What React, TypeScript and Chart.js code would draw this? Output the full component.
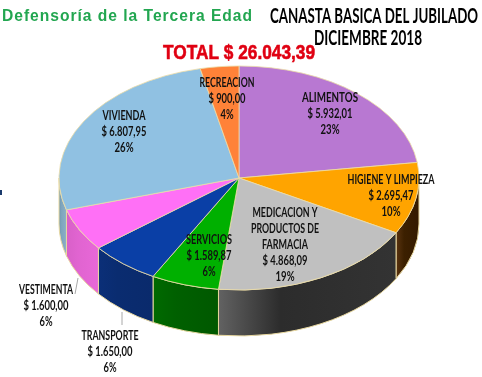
import React, { useEffect, useRef } from "react";
import { Chart, registerables } from "chart.js";

Chart.register(...registerables);

const categories = ["ALIMENTOS", "HIGIENE Y LIMPIEZA", "MEDICACION Y PRODUCTOS DE FARMACIA", "SERVICIOS", "TRANSPORTE", "VESTIMENTA", "VIVIENDA", "RECREACION"];
const values = [5932.01, 2695.47, 4868.09, 1589.87, 1650.0, 1600.0, 6807.95, 900.0];
const amounts = ["$ 5.932,01", "$ 2.695,47", "$ 4.868,09", "$ 1.589,87", "$ 1.650,00", "$ 1.600,00", "$ 6.807,95", "$ 900,00"];
const percents = ["23%", "10%", "19%", "6%", "6%", "6%", "26%", "4%"];
const topColors = ["#B878D2", "#FFA400", "#C0C0C0", "#00B000", "#0A3FA6", "#FF70F6", "#90C1E2", "#FF8238"];
const wallColors = [
  ["#8A58A0", "#8A58A0", "#8A58A0"],
  ["#5A3410", "#3C2000", "#341A00"],
  ["#626262", "#2C2C2C", "#333333"],
  ["#006A00", "#006000", "#005800"],
  ["#0B2F78", "#0A2C70", "#0A2A6C"],
  ["#D860C8", "#E064D0", "#E868D8"],
  ["#6F97B0", "#7FA5BD", "#8AAFC8"],
  ["#C06028", "#C06028", "#C06028"],
];
const labelLines = [
  ["ALIMENTOS"],
  ["HIGIENE Y LIMPIEZA"],
  ["MEDICACION Y", "PRODUCTOS DE", "FARMACIA"],
  ["SERVICIOS"],
  ["TRANSPORTE"],
  ["VESTIMENTA"],
  ["VIVIENDA"],
  ["RECREACION"],
];
const labelAnchors = [
  [330, 98], [391, 180], [285, 213], [209, 240], [110, 336], [46, 290], [124, 116], [227, 83],
];
const labelWidths = [
  [56], [87], [65, 68, 46], [46], [57], [54], [43], [55],
];
const leaders = [
  [78, 278, 75, 294],
  [122, 312, 122, 325],
];

const CENTER_Y = 178;
const SQUASH = 112 / 180;
const DEPTH = 46;

const pie3d = {
  id: "pie3d",
  beforeDatasetsDraw(chart: any) {
    const ctx = chart.ctx;
    const arcs = chart.getDatasetMeta(0).data;
    const first = arcs[0];
    const cx = first.x;
    const rx = first.outerRadius;
    const ry = rx * SQUASH;
    ctx.save();
    arcs.forEach((arc: any, i: number) => {
      const a0 = Math.max(arc.startAngle, 0);
      const a1 = Math.min(arc.endAngle, Math.PI);
      if (a1 <= a0) return;
      const xa = cx + rx * Math.cos(a0);
      const xb = cx + rx * Math.cos(a1);
      const g = ctx.createLinearGradient(xb, 0, xa, 0);
      g.addColorStop(0, wallColors[i][0]);
      g.addColorStop(0.35, wallColors[i][1]);
      g.addColorStop(1, wallColors[i][2]);
      ctx.beginPath();
      ctx.ellipse(cx, CENTER_Y, rx, ry, 0, a0, a1, false);
      ctx.ellipse(cx, CENTER_Y + DEPTH, rx, ry, 0, a1, a0, true);
      ctx.closePath();
      ctx.fillStyle = g;
      ctx.fill();
      ctx.strokeStyle = "#E8D8A0";
      ctx.lineWidth = 1;
      ctx.stroke();
    });
    ctx.restore();
    ctx.save();
    ctx.translate(0, CENTER_Y);
    ctx.scale(1, SQUASH);
    ctx.translate(0, -first.y);
  },
  afterDatasetsDraw(chart: any) {
    const ctx = chart.ctx;
    ctx.restore();
    ctx.save();
    ctx.fillStyle = "#1A3A6C";
    ctx.fillRect(0, 190, 2, 5);
    ctx.strokeStyle = "#A8A8A8";
    ctx.lineWidth = 1;
    leaders.forEach(([x0, y0, x1, y1]) => {
      ctx.beginPath();
      ctx.moveTo(x0, y0);
      ctx.lineTo(x1, y1);
      ctx.stroke();
    });
    ctx.textAlign = "center";
    ctx.textBaseline = "middle";
    ctx.fillStyle = "#111111";
    ctx.font = "bold 13px Lato";
    categories.forEach((_, i) => {
      const [x, y] = labelAnchors[i];
      const lines = [...labelLines[i], amounts[i], percents[i]];
      const n = labelLines[i].length;
      lines.forEach((t, j) => {
        let maxW = labelWidths[i][j];
        if (j === n) maxW = t.length > 8 ? 45 : 37;
        if (j === n + 1) maxW = t.length > 2 ? 19 : 13;
        ctx.fillText(t, x, y + j * 16, maxW);
      });
    });
    ctx.font = "bold 16px 'Liberation Sans'";
    ctx.fillStyle = "#22A650";
    ctx.textAlign = "left";
    (ctx as any).letterSpacing = "1px";
    ctx.fillText("Defensoría de la Tercera Edad", 2, 17, 251);
    (ctx as any).letterSpacing = "0px";
    ctx.textAlign = "center";
    ctx.fillStyle = "#000000";
    ctx.font = "bold 21px Lato";
    ctx.fillText("CANASTA BASICA DEL JUBILADO", 374, 16, 208);
    ctx.fillText("DICIEMBRE 2018", 368, 38, 108);
    ctx.font = "bold 21px 'Liberation Sans'";
    ctx.fillStyle = "#E00012";
    ctx.strokeStyle = "#E00012";
    ctx.lineWidth = 0.6;
    ctx.fillText("TOTAL $ 26.043,39", 239, 53, 152);
    ctx.strokeText("TOTAL $ 26.043,39", 239, 53, 152);
    ctx.restore();
  },
};

export default function App() {
  const ref = useRef<HTMLCanvasElement>(null);
  useEffect(() => {
    const chart = new Chart(ref.current as HTMLCanvasElement, {
      type: "pie",
      data: {
        labels: categories,
        datasets: [
          {
            data: values,
            backgroundColor: topColors,
            borderColor: "#EBDCA8",
            borderWidth: 1,
          },
        ],
      },
      options: {
        responsive: false,
        animation: false,
        layout: { padding: { top: 8, bottom: 8, left: 0, right: 4 } },
        plugins: { legend: { display: false }, title: { display: false }, tooltip: { enabled: false } },
      },
      plugins: [pie3d],
    } as any);
    return () => chart.destroy();
  }, []);
  return (
    <div style={{ position: "fixed", left: 0, top: 0, width: 482, height: 377, background: "#fff" }}>
      <canvas ref={ref} width={482} height={377} style={{ display: "block" }} />
    </div>
  );
}
